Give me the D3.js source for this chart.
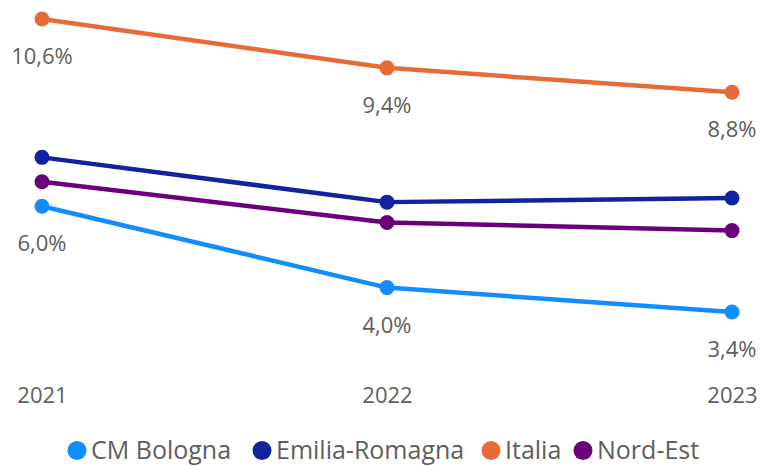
<!DOCTYPE html>
<html>
<head>
<meta charset="utf-8">
<script src="https://cdn.jsdelivr.net/npm/d3@7"></script>
<style>
  html, body { margin: 0; padding: 0; background: #fff; }
  svg { display: block; font-family: "Open Sans", "Noto Sans", sans-serif; }
</style>
</head>
<body>
<svg id="chart" width="761" height="466"></svg>
<script>
// Anni sull'asse orizzontale
const years = ["2021", "2022", "2023"];

// Serie (valori in %)
const seriesNames = ["CM Bologna", "Emilia-Romagna", "Italia", "Nord-Est"];
const cmBologna     = [6.0, 4.0, 3.4];
const emiliaRomagna = [7.2, 6.1, 6.2];
const italia        = [10.6, 9.4, 8.8];
const nordEst       = [6.6, 5.6, 5.4];

const colors = ["#118DFF", "#12239E", "#E66C37", "#6B007B"];
// Serie con etichette dati visibili
const labelled = ["CM Bologna", "Italia"];

const series = [cmBologna, emiliaRomagna, italia, nordEst].map((values, i) => ({
  name: seriesNames[i],
  color: colors[i],
  values: values.map((v, j) => ({ year: years[j], value: v }))
}));

const svg = d3.select("#chart");
const textColor = "#605E5C";
const fmt = v => d3.format(".1f")(v).replace(".", ",") + "%";

const x = d3.scalePoint().domain(years).range([42, 732]);
const y = d3.scaleLinear().domain([3.4, 10.6]).range([312, 19]);

// Asse X (solo etichette)
const xAxis = svg.append("g")
  .attr("transform", "translate(0,387)")
  .call(d3.axisBottom(x).tickSize(0).tickPadding(0));
xAxis.select(".domain").remove();
xAxis.selectAll("text")
  .attr("dy", "0.71em")
  .attr("fill", textColor)
  .style("font-size", "22px")
  .style("font-family", "\"Open Sans\", sans-serif");

const line = d3.line().x(d => x(d.year)).y(d => y(d.value));

const g = svg.append("g");
series.forEach(s => {
  g.append("path")
    .datum(s.values)
    .attr("fill", "none")
    .attr("stroke", s.color)
    .attr("stroke-width", 4.5)
    .attr("stroke-linejoin", "round")
    .attr("d", line);
  g.selectAll(null)
    .data(s.values)
    .join("circle")
    .attr("cx", d => x(d.year))
    .attr("cy", d => y(d.value))
    .attr("r", 7.5)
    .attr("fill", s.color);
});

// Etichette dati
series.filter(s => labelled.includes(s.name)).forEach(s => {
  g.selectAll(null)
    .data(s.values)
    .join("text")
    .attr("x", d => x(d.year))
    .attr("y", d => y(d.value) + 45)
    .attr("text-anchor", "middle")
    .attr("fill", textColor)
    .style("font-size", "22px")
    .text(d => fmt(d.value));
});

// Legenda
const legendX = [77, 262, 491, 583];
const legend = svg.append("g").attr("transform", "translate(0,450.5)");
series.forEach((s, i) => {
  const item = legend.append("g").attr("transform", `translate(${legendX[i]},0)`);
  item.append("circle").attr("r", 9.5).attr("fill", s.color);
  item.append("text")
    .attr("x", 14)
    .attr("dy", "0.35em")
    .attr("fill", textColor)
    .style("font-size", "25px")
    .text(s.name);
});
</script>
</body>
</html>
